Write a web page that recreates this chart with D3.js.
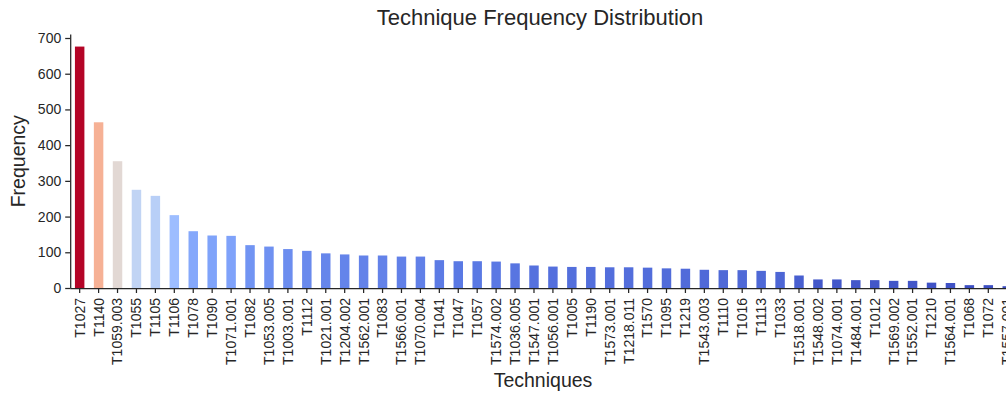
<!DOCTYPE html>
<html>
<head>
<meta charset="utf-8">
<script src="https://cdn.jsdelivr.net/npm/d3@7/dist/d3.min.js"></script>
<style>
  html, body { margin: 0; padding: 0; background: #ffffff; }
  svg { display: block; }
  text { font-family: "Liberation Sans", Arial, Helvetica, sans-serif; }
</style>
</head>
<body>
<svg id="chart" width="1006" height="394"></svg>
<script>
// Technique IDs, ordered by frequency
const techniques = [
  "T1027", "T1140", "T1059.003", "T1055", "T1105", "T1106", "T1078", "T1090",
  "T1071.001", "T1082", "T1053.005", "T1003.001", "T1112", "T1021.001", "T1204.002",
  "T1562.001", "T1083", "T1566.001", "T1070.004", "T1041", "T1047", "T1057",
  "T1574.002", "T1036.005", "T1547.001", "T1056.001", "T1005", "T1190", "T1573.001",
  "T1218.011", "T1570", "T1095", "T1219", "T1543.003", "T1110", "T1016", "T1113",
  "T1033", "T1518.001", "T1548.002", "T1074.001", "T1484.001", "T1012", "T1569.002",
  "T1552.001", "T1210", "T1564.001", "T1068", "T1072", "T1557.001"
];

// Occurrence count of each technique
const frequencies = [
  676, 464, 355, 275, 258, 204, 159, 147,
  146, 120, 116, 109, 104, 97, 94,
  91, 91, 88, 88, 78, 75, 75,
  74, 69, 63, 60, 59, 59, 58,
  58, 57, 55, 54, 51, 50, 50, 48,
  45, 35, 24, 24, 22, 22, 20,
  20, 15, 14, 8, 8, 5
];

const yTicks = [0, 100, 200, 300, 400, 500, 600, 700];

// Diverging cool-warm palette stops
const coolwarmStops = [
  "#3b4cc0", "#5977e3", "#7b9ff9", "#9ebeff", "#c0d4f5", "#dddcdc",
  "#f2cbb7", "#f7ac8e", "#ee8468", "#d65244", "#b40426"
];

const svg = d3.select("#chart");
const W = 1006, H = 394;
svg.append("rect").attr("width", W).attr("height", H).attr("fill", "#ffffff");

const plot = { left: 70.2, right: 1016.7, top: 34.5, bottom: 288 };
const textColor = "#262626";

const maxV = d3.max(frequencies), minV = d3.min(frequencies);

const x = d3.scaleBand()
  .domain(techniques)
  .range([plot.left, plot.right])
  .paddingInner(0.5)
  .paddingOuter(0.25);

const y = d3.scaleLinear()
  .domain([0, maxV * 1.05])
  .range([plot.bottom, plot.top]);

const colorNorm = d3.scaleLinear().domain([minV, maxV]).range([0, 1]);
const coolwarm = d3.scaleLinear()
  .domain(coolwarmStops.map((_, i) => i / (coolwarmStops.length - 1)))
  .range(coolwarmStops)
  .interpolate(d3.interpolateRgb);

const data = techniques.map((t, i) => ({ t, v: frequencies[i] }));

// Bars
svg.append("g")
  .selectAll("rect")
  .data(data)
  .join("rect")
  .attr("x", d => x(d.t))
  .attr("width", x.bandwidth())
  .attr("y", d => y(d.v))
  .attr("height", d => y(0) - y(d.v))
  .attr("fill", d => coolwarm(colorNorm(d.v)));

// Y axis
const yAxis = svg.append("g")
  .attr("transform", `translate(${plot.left},0)`)
  .call(d3.axisLeft(y).tickValues(yTicks).tickSize(5).tickPadding(4).tickFormat(d3.format("d")));
yAxis.select(".domain").attr("stroke", textColor).attr("stroke-width", 1.25)
  .attr("d", `M0.5,${plot.top}V${plot.bottom}`);
yAxis.selectAll(".tick line").attr("stroke", textColor).attr("stroke-width", 1.25);
yAxis.selectAll(".tick text")
  .attr("fill", textColor)
  .style("font-size", "14px");

// X axis
const xAxis = svg.append("g")
  .attr("transform", `translate(0,${plot.bottom})`)
  .call(d3.axisBottom(x).tickSize(5));
xAxis.select(".domain").attr("stroke", textColor).attr("stroke-width", 1.25)
  .attr("d", `M${plot.left},0.5H${plot.right}`);
xAxis.selectAll(".tick line").attr("stroke", textColor).attr("stroke-width", 1.25);
xAxis.selectAll(".tick text")
  .attr("fill", textColor)
  .style("font-size", "14px")
  .attr("transform", "rotate(-90)")
  .attr("text-anchor", "end")
  .attr("x", -10)
  .attr("y", 0)
  .attr("dy", "0.35em");

// Title
svg.append("text")
  .attr("x", 540)
  .attr("y", 25)
  .attr("text-anchor", "middle")
  .attr("fill", textColor)
  .style("font-size", "22px")
  .text("Technique Frequency Distribution");

// Axis titles
svg.append("text")
  .attr("x", 543)
  .attr("y", 387)
  .attr("text-anchor", "middle")
  .attr("fill", textColor)
  .style("font-size", "19.5px")
  .text("Techniques");

svg.append("text")
  .attr("transform", `translate(25,${(plot.top + plot.bottom) / 2}) rotate(-90)`)
  .attr("text-anchor", "middle")
  .attr("fill", textColor)
  .style("font-size", "19.5px")
  .text("Frequency");
</script>
</body>
</html>
